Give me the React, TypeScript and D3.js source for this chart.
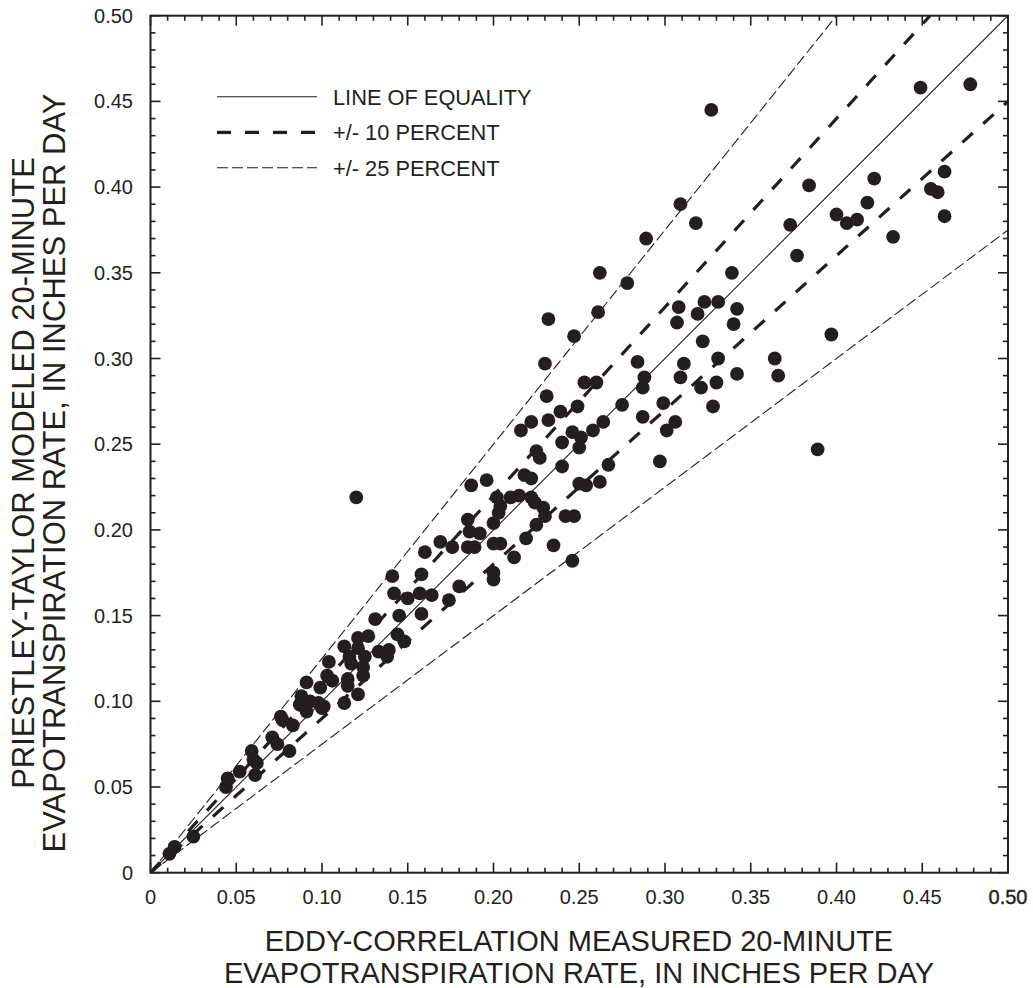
import { useEffect, useRef } from "react";
import * as d3 from "d3";

// eddy-correlation measured ET (x) vs Priestley-Taylor modeled ET (y), inches per day
const measured = [
  0.327, 0.449, 0.478, 0.309, 0.384, 0.422, 0.463, 0.318, 0.289, 0.373,
  0.400, 0.406, 0.412, 0.418, 0.455, 0.459, 0.463, 0.433, 0.377, 0.262,
  0.278, 0.339, 0.308, 0.323, 0.331, 0.319, 0.307, 0.342, 0.340, 0.261,
  0.322, 0.397, 0.284, 0.288, 0.287, 0.311, 0.309, 0.331, 0.342, 0.364,
  0.366, 0.321, 0.330, 0.328, 0.260, 0.275, 0.264, 0.299, 0.287, 0.306,
  0.301, 0.389, 0.297, 0.232, 0.247, 0.230, 0.253, 0.231, 0.239, 0.249,
  0.232, 0.216, 0.222, 0.246, 0.258, 0.240, 0.251, 0.250, 0.225, 0.227,
  0.240, 0.267, 0.250, 0.254, 0.262, 0.187, 0.196, 0.218, 0.222, 0.202,
  0.210, 0.215, 0.222, 0.224, 0.204, 0.229, 0.230, 0.203, 0.242, 0.247,
  0.200, 0.185, 0.225, 0.186, 0.192, 0.169, 0.176, 0.185, 0.189, 0.200,
  0.204, 0.219, 0.235, 0.160, 0.212, 0.246, 0.141, 0.158, 0.200, 0.200,
  0.180, 0.142, 0.150, 0.157, 0.164, 0.174, 0.145, 0.158, 0.131, 0.127,
  0.144, 0.148, 0.121, 0.113, 0.121, 0.133, 0.139, 0.138, 0.116, 0.125,
  0.104, 0.117, 0.124, 0.103, 0.115, 0.124, 0.115, 0.121, 0.091, 0.099,
  0.088, 0.093, 0.087, 0.098, 0.100, 0.113, 0.076, 0.106, 0.091, 0.101,
  0.077, 0.083, 0.071, 0.074, 0.081, 0.059, 0.060, 0.061, 0.052, 0.045,
  0.044, 0.014, 0.011, 0.025, 0.120, 0.062,
];
const modeled = [
  0.445, 0.458, 0.460, 0.390, 0.401, 0.405, 0.409, 0.379, 0.370, 0.378,
  0.384, 0.379, 0.381, 0.391, 0.399, 0.397, 0.383, 0.371, 0.360, 0.350,
  0.344, 0.350, 0.330, 0.333, 0.333, 0.326, 0.321, 0.329, 0.320, 0.327,
  0.310, 0.314, 0.298, 0.289, 0.283, 0.297, 0.289, 0.300, 0.291, 0.300,
  0.290, 0.283, 0.286, 0.272, 0.286, 0.273, 0.263, 0.274, 0.266, 0.263,
  0.258, 0.247, 0.240, 0.323, 0.313, 0.297, 0.286, 0.278, 0.269, 0.272,
  0.264, 0.258, 0.263, 0.257, 0.258, 0.251, 0.254, 0.248, 0.246, 0.242,
  0.237, 0.238, 0.227, 0.226, 0.228, 0.226, 0.229, 0.232, 0.230, 0.219,
  0.219, 0.220, 0.219, 0.216, 0.214, 0.213, 0.208, 0.210, 0.208, 0.208,
  0.204, 0.206, 0.203, 0.199, 0.198, 0.193, 0.190, 0.190, 0.190, 0.192,
  0.192, 0.195, 0.191, 0.187, 0.184, 0.182, 0.173, 0.174, 0.175, 0.171,
  0.167, 0.163, 0.160, 0.163, 0.162, 0.159, 0.150, 0.151, 0.148, 0.138,
  0.139, 0.135, 0.137, 0.132, 0.131, 0.129, 0.130, 0.126, 0.126, 0.126,
  0.123, 0.122, 0.120, 0.115, 0.113, 0.115, 0.109, 0.104, 0.111, 0.108,
  0.103, 0.100, 0.098, 0.099, 0.096, 0.099, 0.091, 0.112, 0.094, 0.097,
  0.089, 0.086, 0.079, 0.075, 0.071, 0.071, 0.066, 0.057, 0.059, 0.055,
  0.050, 0.015, 0.011, 0.021, 0.219, 0.064,
];

const tickLabels = ["0", "0.05", "0.10", "0.15", "0.20", "0.25", "0.30", "0.35", "0.40", "0.45", "0.50"];

const legendLabels = ["LINE OF EQUALITY", "+/- 10 PERCENT", "+/- 25 PERCENT"];
// ratio of modeled to measured for each reference line, and which legend style it uses
const ratios = [1, 1.1, 0.9, 1.25, 0.75];
const ratioStyle = [0, 1, 1, 2, 2];

const xTitle = ["EDDY-CORRELATION MEASURED 20-MINUTE", "EVAPOTRANSPIRATION RATE, IN INCHES PER DAY"];
const yTitle = ["PRIESTLEY-TAYLOR MODELED 20-MINUTE", "EVAPOTRANSPIRATION RATE, IN INCHES PER DAY"];

const lineStyles = [
  { width: 1.1, dash: "none" },
  { width: 3.2, dash: "14 14" },
  { width: 1.1, dash: "11 4" },
];

export default function App() {
  const ref = useRef<SVGSVGElement>(null);

  useEffect(() => {
    const svg = d3.select(ref.current);
    svg.selectAll("*").remove();
    const ink = "#231f20";
    const font = "'Liberation Sans', Arial, sans-serif";

    const left = 150.5, right = 1008, top = 15.7, bottom = 872.7;
    const x = d3.scaleLinear().domain([0, 0.5]).range([left, right]);
    const y = d3.scaleLinear().domain([0, 0.5]).range([bottom, top]);

    svg.append("defs").append("clipPath").attr("id", "plot")
      .append("rect").attr("x", left).attr("y", top)
      .attr("width", right - left).attr("height", bottom - top);

    // reference lines
    const g = svg.append("g").attr("clip-path", "url(#plot)");
    ratios.forEach((r, i) => {
      const s = lineStyles[ratioStyle[i]];
      const xe = Math.min(0.5, 0.5 / r);
      g.append("line")
        .attr("x1", x(0)).attr("y1", y(0))
        .attr("x2", x(xe)).attr("y2", y(xe * r))
        .attr("stroke", ink)
        .attr("stroke-width", s.width)
        .attr("stroke-dasharray", s.dash);
    });

    // points
    g.selectAll("circle")
      .data(measured.map((m, i) => [m, modeled[i]]))
      .join("circle")
      .attr("cx", (d) => x(d[0]))
      .attr("cy", (d) => y(d[1]))
      .attr("r", 6.9)
      .attr("fill", ink);

    // frame + inward ticks on all four sides
    const minor = d3.range(0, 51).map((i) => i / 100);
    const major = tickLabels.map((t) => +t);
    const axis = svg.append("g").attr("stroke", ink).attr("stroke-width", 1.6);
    minor.forEach((v) => {
      const isMajor = major.some((m) => Math.abs(m - v) < 1e-6);
      const len = isMajor ? 10 : 5;
      axis.append("line").attr("x1", x(v)).attr("x2", x(v)).attr("y1", bottom).attr("y2", bottom - len);
      axis.append("line").attr("x1", x(v)).attr("x2", x(v)).attr("y1", top).attr("y2", top + len);
      axis.append("line").attr("y1", y(v)).attr("y2", y(v)).attr("x1", left).attr("x2", left + len);
      axis.append("line").attr("y1", y(v)).attr("y2", y(v)).attr("x1", right).attr("x2", right - len);
    });
    svg.append("rect")
      .attr("x", left).attr("y", top)
      .attr("width", right - left).attr("height", bottom - top)
      .attr("fill", "none").attr("stroke", ink).attr("stroke-width", 2);

    // tick labels
    const labels = svg.append("g").attr("font-family", font).attr("font-size", 20).attr("fill", ink);
    tickLabels.forEach((t, i) => {
      const xl = labels.append("text").attr("x", x(+t)).attr("y", 904)
        .attr("text-anchor", "middle").text(t);
      // the last x label is printed heavier in the original
      if (i === tickLabels.length - 1) xl.attr("stroke", ink).attr("stroke-width", 0.4);
      labels.append("text").attr("x", 133).attr("y", y(+t) + 7)
        .attr("text-anchor", "end").text(t);
    });

    // legend
    const legend = svg.append("g");
    const legendY = [96.7, 132.3, 167.7];
    legendLabels.forEach((label, i) => {
      const s = lineStyles[i];
      legend.append("line")
        .attr("x1", 217).attr("x2", 317)
        .attr("y1", legendY[i]).attr("y2", legendY[i])
        .attr("stroke", ink).attr("stroke-width", s.width)
        .attr("stroke-dasharray", s.dash);
      legend.append("text")
        .attr("x", 333).attr("y", legendY[i] + 7.8)
        .attr("font-family", font).attr("font-size", 21.8)
        .attr("fill", ink).text(label);
    });

    // axis titles
    const titles = svg.append("g").attr("font-family", font)
      .attr("fill", ink).attr("text-anchor", "middle");
    xTitle.forEach((t, i) => {
      titles.append("text").attr("x", 579).attr("y", 951 + i * 32)
        .attr("font-size", 29).text(t);
    });
    yTitle.forEach((t, i) => {
      titles.append("text")
        .attr("transform", `translate(${34 + i * 31},473) rotate(-90)`)
        .attr("font-size", 31)
        .text(t);
    });
  });

  return (
    <svg
      ref={ref}
      width={1033}
      height={988}
      style={{ position: "absolute", left: 0, top: 0, background: "#fff" }}
    />
  );
}
